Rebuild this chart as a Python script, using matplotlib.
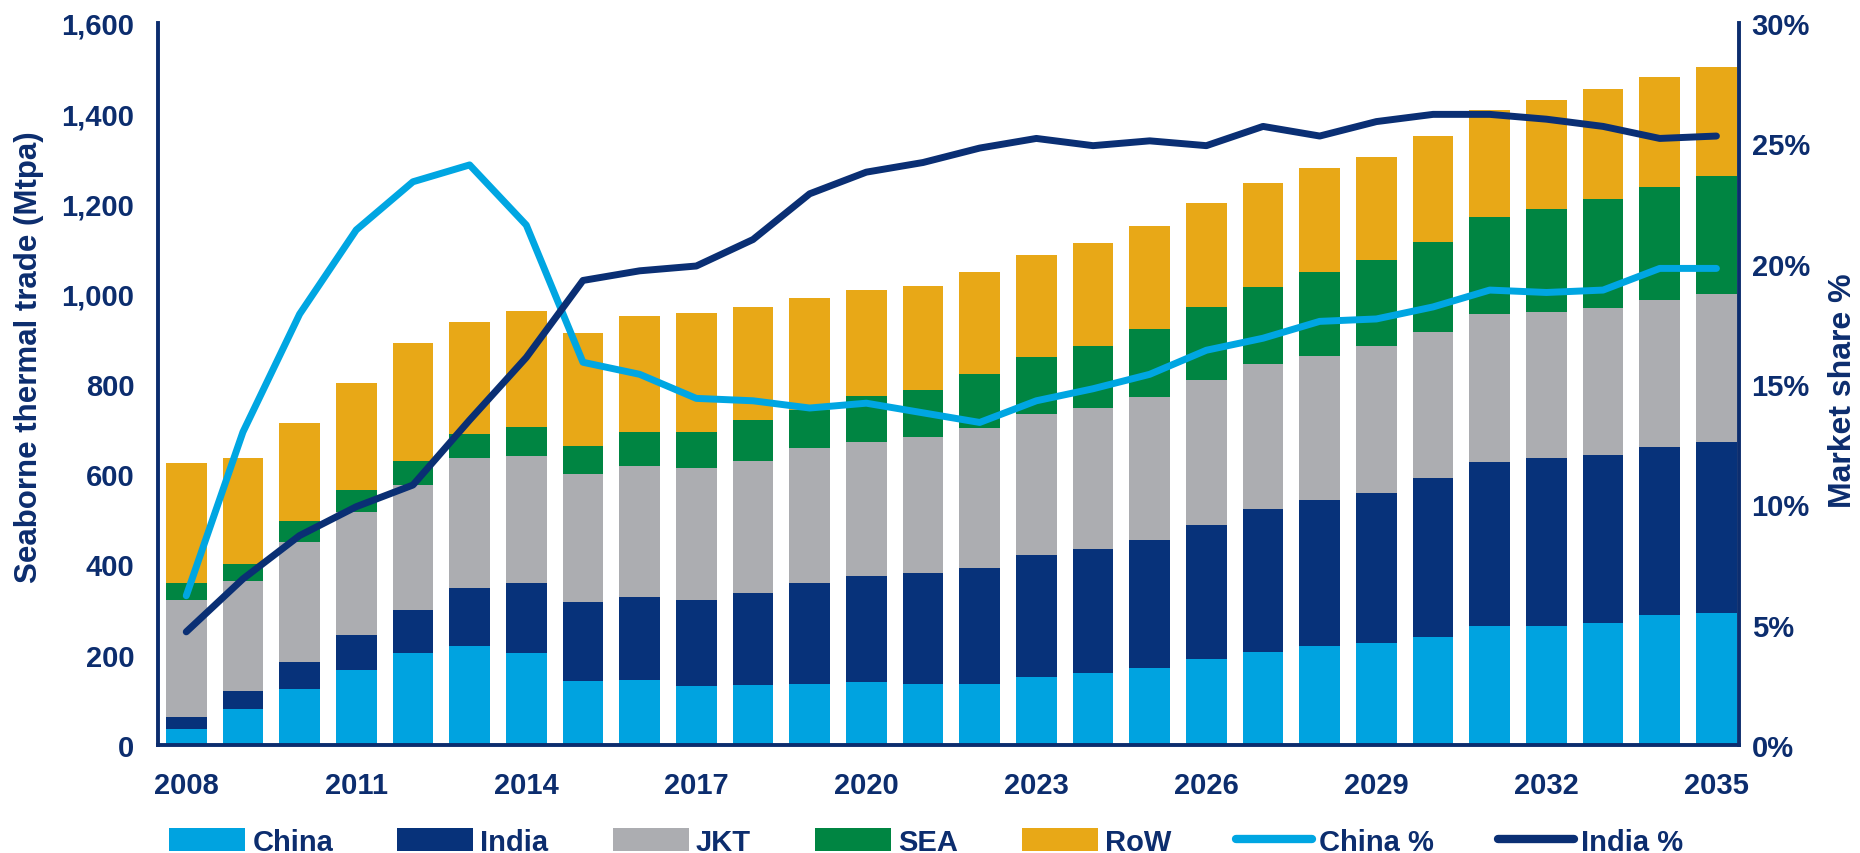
import matplotlib
matplotlib.use("Agg")
import matplotlib.pyplot as plt
from matplotlib.patches import Patch
from matplotlib.lines import Line2D
import numpy as np

plt.rcParams['font.family'] = ['Liberation Sans', 'DejaVu Sans']
plt.rcParams['font.weight'] = 'bold'

years = list(range(2008, 2036))
china = [35, 79, 124, 167, 204, 220, 204, 142, 143, 131, 133, 135, 140, 136,
         136, 151, 159, 170, 190, 207, 220, 226, 240, 263, 264, 270, 288, 292]
india = [27, 41, 60, 77, 95, 128, 155, 175, 185, 191, 204, 224, 235, 244,
         257, 271, 275, 285, 297, 316, 322, 332, 351, 364, 371, 372, 373, 380]
jkt = [260, 243, 266, 272, 277, 287, 282, 284, 291, 292, 293, 299, 297, 302,
       309, 311, 312, 316, 321, 322, 321, 325, 325, 327, 325, 327, 324, 327]
sea = [37, 39, 47, 50, 54, 53, 63, 62, 74, 79, 90, 85, 102, 104,
       119, 127, 139, 151, 162, 169, 186, 192, 199, 217, 228, 241, 252, 262]
row = [265, 234, 216, 237, 260, 250, 258, 250, 258, 264, 251, 247, 235, 232,
       226, 226, 227, 227, 231, 231, 229, 227, 235, 237, 242, 243, 244, 241]
china_pct = [6.2, 13.0, 17.9, 21.4, 23.4, 24.1, 21.6, 15.9, 15.4, 14.4, 14.3, 14.0, 14.2, 13.8,
             13.4, 14.3, 14.8, 15.4, 16.4, 16.9, 17.6, 17.7, 18.2, 18.9, 18.8, 18.9, 19.8, 19.8]
india_pct = [4.7, 6.9, 8.7, 9.9, 10.8, 13.5, 16.1, 19.3, 19.7, 19.9, 21.0, 22.9, 23.8, 24.2,
             24.8, 25.2, 24.9, 25.1, 24.9, 25.7, 25.3, 25.9, 26.2, 26.2, 26.0, 25.7, 25.2, 25.3]
left_ticks = [0, 200, 400, 600, 800, 1000, 1200, 1400, 1600]
right_ticks = [0, 5, 10, 15, 20, 25, 30]
xtick_years = list(range(2008, 2036, 3))

NAVY = '#0c2d6e'
C_CHINA = '#00a3e0'
C_INDIA = '#07327a'
C_JKT = '#acadb1'
C_SEA = '#008542'
C_ROW = '#e8a817'
C_CHINA_L = '#00a6e2'
C_INDIA_L = '#0a2f74'

fig = plt.figure(figsize=(18.6, 8.54), dpi=100)
ax = fig.add_axes([0.0849, 0.1265, 0.935 - 0.0849, 0.972 - 0.1265])
ax2 = ax.twinx()

x = np.arange(len(years))
w = 0.72
series = [(china, C_CHINA, 'China'), (india, C_INDIA, 'India'), (jkt, C_JKT, 'JKT'),
          (sea, C_SEA, 'SEA'), (row, C_ROW, 'RoW')]
bottom = np.zeros(len(years))
for vals, col, lab in series:
    ax.bar(x, vals, w, bottom=bottom, color=col, linewidth=0, zorder=2)
    bottom += np.array(vals)

ax2.plot(x, china_pct, color=C_CHINA_L, lw=5, solid_capstyle='round', solid_joinstyle='round', zorder=3)
ax2.plot(x, india_pct, color=C_INDIA_L, lw=5, solid_capstyle='round', solid_joinstyle='round', zorder=4)

ax.set_xlim(-0.5, 27.4)
ax.set_ylim(0, 1600)
ax2.set_ylim(0, 30)

ax.set_yticks(left_ticks)
ax.set_yticklabels([f"{v:,}" for v in left_ticks])
ax2.set_yticks(right_ticks)
ax2.set_yticklabels([f"{v}%" for v in right_ticks])
ax.set_xticks([years.index(y) for y in xtick_years])
ax.set_xticklabels([str(y) for y in xtick_years])

for a in (ax, ax2):
    for s in a.spines.values():
        s.set_color(NAVY)
        s.set_linewidth(2.8)
    a.spines['top'].set_visible(False)
ax.spines['right'].set_visible(False)
ax2.spines['left'].set_visible(False)
ax2.spines['bottom'].set_visible(False)

ax.tick_params(axis='y', length=0, pad=17, labelsize=21, labelcolor=NAVY)
ax.tick_params(axis='x', length=0, pad=19, labelsize=21, labelcolor=NAVY)
ax2.tick_params(axis='y', length=0, pad=9, labelsize=21, labelcolor=NAVY)

fig.text(0.0156, 0.582, 'Seaborne thermal trade (Mtpa)', rotation=90, ha='center', va='center',
         fontsize=22.5, color=NAVY, fontweight='bold')
fig.text(0.991, 0.542, 'Market share %', rotation=90, ha='center', va='center',
         fontsize=23, color=NAVY, fontweight='bold')

handles = [Patch(facecolor=c, edgecolor='none', label=l) for _, c, l in series]
handles += [Line2D([0], [0], color=C_CHINA_L, lw=6, solid_capstyle='round', label='China %'),
            Line2D([0], [0], color=C_INDIA_L, lw=6, solid_capstyle='round', label='India %')]
leg = fig.legend(handles=handles, loc='center', bbox_to_anchor=(0.498, 0.013), ncol=7,
                 frameon=False, fontsize=21, handlelength=2.6, handleheight=0.85,
                 handletextpad=0.25, columnspacing=2.2)
for t in leg.get_texts():
    t.set_color(NAVY)
    t.set_fontweight('bold')

fig.savefig('out.png', dpi=100)
